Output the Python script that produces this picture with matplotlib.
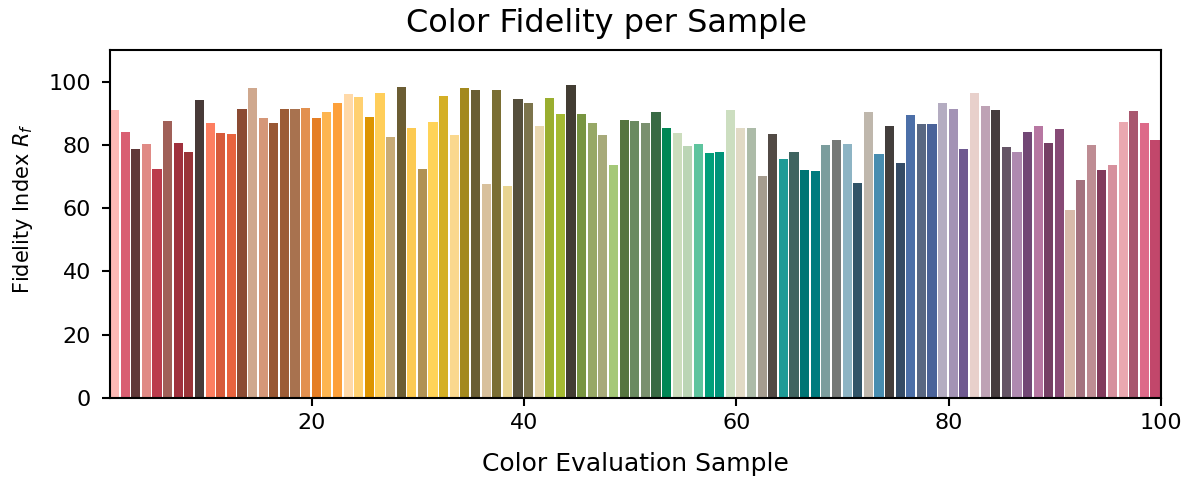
import matplotlib
matplotlib.use("Agg")
import matplotlib.pyplot as plt

# --- Data ---
samples = list(range(1, 100))

fidelity = [
    90.9, 84.2, 78.8, 80.4, 72.5, 87.4, 80.7, 77.9, 94.1, 86.8,
    83.9, 83.6, 91.2, 97.9, 88.4, 86.8, 91.2, 91.5, 91.8, 88.4,
    90.3, 93.1, 96.0, 95.0, 88.7, 96.3, 82.6, 98.2, 85.5, 72.5,
    87.1, 95.6, 83.0, 97.9, 97.5, 67.7, 97.5, 67.1, 94.4, 93.4,
    86.1, 94.7, 89.9, 98.8, 89.9, 86.8, 83.0, 73.5, 88.0, 87.7,
    86.8, 90.3, 85.5, 83.9, 79.8, 80.4, 77.3, 77.6, 90.9, 85.5,
    85.2, 70.3, 83.3, 75.7, 77.6, 72.2, 71.9, 80.1, 81.4, 80.4,
    68.1, 90.3, 77.0, 86.1, 74.4, 89.6, 86.5, 86.5, 93.4, 91.2,
    78.8, 96.3, 92.2, 90.9, 79.2, 77.9, 84.2, 86.1, 80.7, 84.9,
    59.5, 69.0, 80.1, 72.2, 73.8, 87.1, 90.6, 86.8, 81.4,
]

sample_colors = [
    "#FDB9B5", "#D95F72", "#603838", "#E08A85", "#BB3B4C", "#A06058", "#A0313D", "#9A3438", "#483A38", "#FD7E60",
    "#D65A3A", "#E8633E", "#8B4B33", "#CFA88E", "#D59778", "#995834", "#9C5C36", "#A8724F", "#E2904F", "#E57E25",
    "#FDB550", "#FDA03A", "#FFD9A8", "#FFD070", "#DD9400", "#FFCE5A", "#C8AB76", "#6B5D33", "#FCCA52", "#B09255",
    "#FFD358", "#D4AF26", "#FAD88E", "#A3891E", "#6A5E34", "#D8C09C", "#7A6E33", "#E8D491", "#554F3C", "#7C744C",
    "#E9D8AF", "#9AAE2F", "#A5BA32", "#433D33", "#789540", "#97A866", "#A7AA7A", "#A5C878", "#567540", "#6A8A60",
    "#7A906E", "#386A44", "#008755", "#CCDDBD", "#BBD5B5", "#5EC49E", "#009F7A", "#009379", "#CCDEC0", "#E1DAC5",
    "#ACBBA8", "#A59C8F", "#524A45", "#1E9B96", "#3F6460", "#007574", "#007B7E", "#7B9D9D", "#767977", "#8DB4C4",
    "#315468", "#BFB7AC", "#488DB0", "#433E3C", "#344B66", "#4C6FA8", "#596782", "#4A6299", "#B4ACC1", "#A393B5",
    "#6E5990", "#E8D0CB", "#BEA2B5", "#453C3E", "#655566", "#AF8AB0", "#724775", "#B777A2", "#753F64", "#874A76",
    "#D8BAAA", "#A4727F", "#BE8C93", "#823A5C", "#D6909D", "#EAA8B0", "#A8576E", "#DD6A89", "#C2476B",
]

x_ticks = [20, 40, 60, 80, 100]
y_ticks = [0, 20, 40, 60, 80, 100]

plt.rcParams['font.family'] = ['DejaVu Sans']
plt.rcParams['mathtext.fontset'] = 'dejavusans'

fig = plt.figure(figsize=(11.94, 4.84), dpi=100)
ax = fig.add_axes([0.0921, 0.1777, 0.8803, 0.719])

ax.bar(samples, fidelity, width=0.86, align='edge', color=sample_colors)

ax.set_xlim(1, 100)
ax.set_ylim(0, 110)
ax.set_xticks(x_ticks)
ax.set_yticks(y_ticks)
ax.tick_params(axis='both', labelsize=16, width=1.5, length=5.5, direction='out')
ax.tick_params(axis='y', pad=8)
ax.tick_params(axis='x', pad=5)
for spine in ax.spines.values():
    spine.set_linewidth(1.5)

ax.set_xlabel('Color Evaluation Sample', fontsize=18)
ax.xaxis.set_label_coords(0.5, -0.155)
ax.set_ylabel('Fidelity Index $R_f$', fontsize=15)
ax.yaxis.set_label_coords(-0.071, 0.543)
fig.text(0.508, 0.9345, 'Color Fidelity per Sample', fontsize=23,
         ha='center', va='baseline')

fig.savefig('out.png', dpi=100)
plt.close(fig)
